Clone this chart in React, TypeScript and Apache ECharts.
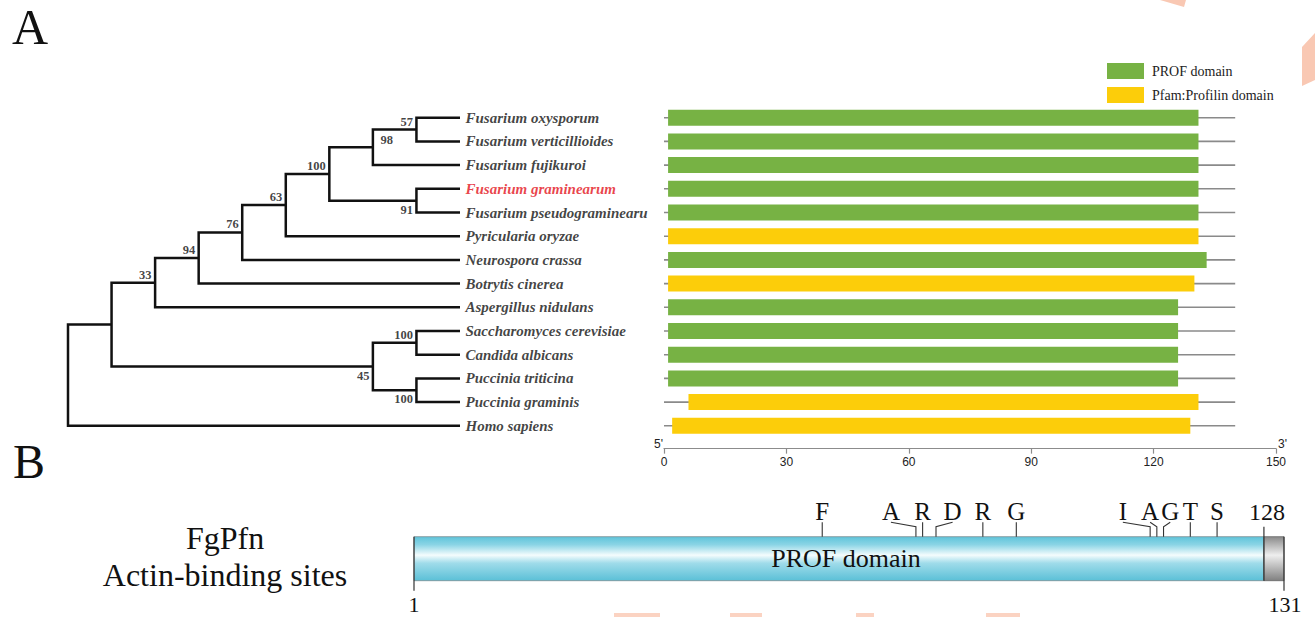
import React, { useEffect, useRef } from "react";
import * as echarts from "echarts";

// ---------------- DATA ----------------
const species = [
  "Fusarium oxysporum",
  "Fusarium verticillioides",
  "Fusarium fujikuroi",
  "Fusarium graminearum",
  "Fusarium pseudograminearum",
  "Pyricularia oryzae",
  "Neurospora crassa",
  "Botrytis cinerea",
  "Aspergillus nidulans",
  "Saccharomyces cerevisiae",
  "Candida albicans",
  "Puccinia triticina",
  "Puccinia graminis",
  "Homo sapiens",
];
const highlightedSpecies = "Fusarium graminearum";

// tree: internal nodes (children are leaf indices or node ids), level = depth in cladogram
const treeNodes = [
  { id: "n57", level: 8, children: [0, 1], support: 57, place: "a" },
  { id: "n98", level: 7, children: ["n57", 2], support: 98, place: "r" },
  { id: "n91", level: 8, children: [3, 4], support: 91, place: "b" },
  { id: "n100a", level: 6, children: ["n98", "n91"], support: 100, place: "a" },
  { id: "n63", level: 5, children: ["n100a", 5], support: 63, place: "a" },
  { id: "n76", level: 4, children: ["n63", 6], support: 76, place: "a" },
  { id: "n94", level: 3, children: ["n76", 7], support: 94, place: "a" },
  { id: "n33", level: 2, children: ["n94", 8], support: 33, place: "a" },
  { id: "n100b", level: 8, children: [9, 10], support: 100, place: "a" },
  { id: "n100c", level: 8, children: [11, 12], support: 100, place: "b" },
  { id: "n45", level: 7, children: ["n100b", "n100c"], support: 45, place: "b" },
  { id: "n1", level: 1, children: ["n33", "n45"], support: null, place: "a" },
  { id: "root", level: 0, children: ["n1", 13], support: null, place: "a" },
];
const leafLevel = 9;

const proteinLength = [140, 140, 140, 140, 140, 140, 140, 140, 140, 140, 140, 140, 140, 140];
const domainStart = [1, 1, 1, 1, 1, 1, 1, 1, 1, 1, 1, 1, 6, 2];
const domainEnd = [131, 131, 131, 131, 131, 131, 133, 130, 126, 126, 126, 126, 131, 129];
const domainType = ["PROF", "PROF", "PROF", "PROF", "PROF", "Pfam", "PROF", "Pfam", "PROF", "PROF", "PROF", "PROF", "Pfam", "Pfam"];
const domainLabels = { PROF: "PROF domain", Pfam: "Pfam:Profilin domain" };
const axisMax = 150;
const axisInterval = 30;

// panel B
const fgpfnLength = 131;
const profRegion = [1, 128];
const profLabel = "PROF domain";
const siteResidues = [62, 76, 77, 79, 86, 91, 111, 112, 113, 117, 121];
const siteLetters = ["F", "A", "R", "D", "R", "G", "I", "A", "G", "T", "S"];

// ---------------- LAYOUT / STYLE ----------------
const SERIF = "'Liberation Serif', 'Times New Roman', serif";
const SANS = "'Liberation Sans', Arial, sans-serif";
const GREEN = "#77b244";
const YELLOW = "#fccd0a";
const RED = "#e3121b";
const ROW_TOP = 105.85;
const ROW_STEP = 23.7;
const ROWS_H = ROW_STEP * species.length;
const TREE_LEFT = 68;
const TREE_W = 392;
const DOM_LEFT = 664;
const DOM_W = 612;
const AXIS_OFFSET = 11;
const B_LEFT = 414;
const B_W = 870;
const B_TOP = 536.7;
const B_H = 44;
const siteLabelShift = [0, -25, 0, 16.6, 0, 0, -27.3, -6.7, 6.7, 0, 0];

function computeTree() {
  const byId: Record<string, any> = {};
  treeNodes.forEach((n) => (byId[n.id] = n));
  const cache: Record<string, number> = {};
  const yOf = (c: any): number => {
    if (typeof c === "number") return c;
    if (cache[c] != null) return cache[c];
    const n = byId[c];
    const ys = n.children.map(yOf);
    const v = (Math.min(...ys) + Math.max(...ys)) / 2;
    cache[c] = v;
    return v;
  };
  const xOf = (c: any): number => (typeof c === "number" ? leafLevel : byId[c].level);
  const brackets = treeNodes.map((n) => {
    const [a, b] = n.children;
    return [n.level, yOf(a), xOf(a), yOf(b), xOf(b)];
  });
  const supports = treeNodes
    .filter((n) => n.support != null)
    .map((n) => ({ value: [n.level, yOf(n.id)], support: n.support, place: n.place }));
  return { brackets, supports };
}

export default function App() {
  const ref = useRef<HTMLDivElement>(null);
  useEffect(() => {
    document.body.style.margin = "0";
    const chart = echarts.init(ref.current!, null, { renderer: "svg" });
    const { brackets, supports } = computeTree();

    const supportData = supports.map((s) => {
      let label: any;
      if (s.place === "a") label = { position: [-3, -1], align: "right", verticalAlign: "bottom" };
      else if (s.place === "b") label = { position: [-3, 3], align: "right", verticalAlign: "top" };
      else label = { position: [8, -7], align: "left", verticalAlign: "middle" };
      return { value: s.value, support: s.support, label };
    });

    const leafData = species.map((name, i) => ({
      value: [leafLevel, i],
      name,
      label: { color: name === highlightedSpecies ? RED : "#111" },
    }));

    const domainRows = (type: string) =>
      species
        .map((_, i) => [i, domainStart[i], domainEnd[i], domainType[i]])
        .filter((r) => r[3] === type)
        .map((r) => [r[0], r[1], r[2]]);

    const domainSeries = (type: "PROF" | "Pfam", color: string) => ({
      type: "custom",
      name: domainLabels[type],
      xAxisIndex: 1,
      yAxisIndex: 1,
      itemStyle: { color },
      clip: false,
      z: 3,
      data: domainRows(type),
      renderItem: (params: any, api: any) => {
        const row = api.value(0);
        const p0 = api.coord([api.value(1), row]);
        const p1 = api.coord([api.value(2), row]);
        return {
          type: "rect",
          shape: { x: p0[0], y: p0[1] - 8, width: p1[0] - p0[0], height: 16 },
          style: { fill: color },
        };
      },
    });

    const cyan = new echarts.graphic.LinearGradient(0, 0, 0, 1, [
      { offset: 0, color: "#5fc4da" },
      { offset: 0.18, color: "#8ad4e5" },
      { offset: 0.42, color: "#f4fcfd" },
      { offset: 0.6, color: "#a0dcea" },
      { offset: 1, color: "#5bc0d7" },
    ]);
    const grey = new echarts.graphic.LinearGradient(0, 0, 0, 1, [
      { offset: 0, color: "#8a8a8a" },
      { offset: 0.42, color: "#eeeeee" },
      { offset: 1, color: "#808080" },
    ]);

    const option: any = {
      animation: false,
      backgroundColor: "#ffffff",
      grid: [
        { left: TREE_LEFT, top: ROW_TOP, width: TREE_W, height: ROWS_H },
        { left: DOM_LEFT, top: ROW_TOP, width: DOM_W, height: ROWS_H },
        { left: B_LEFT, top: B_TOP, width: B_W, height: B_H },
      ],
      xAxis: [
        { gridIndex: 0, type: "value", min: 0, max: leafLevel, show: false },
        {
          gridIndex: 1,
          type: "value",
          min: 0,
          max: axisMax,
          interval: axisInterval,
          position: "bottom",
          offset: AXIS_OFFSET,
          axisLine: { show: true, onZero: false, lineStyle: { color: "#8c8c8c", width: 1.2 } },
          axisTick: { show: true, length: 5, lineStyle: { color: "#8c8c8c", width: 1.2 } },
          axisLabel: { color: "#222", fontFamily: SANS, fontSize: 12, margin: 7 },
          splitLine: { show: false },
        },
        { gridIndex: 2, type: "value", min: 1, max: fgpfnLength, show: false },
      ],
      yAxis: [
        { gridIndex: 0, type: "value", min: -0.5, max: species.length - 0.5, inverse: true, show: false },
        { gridIndex: 1, type: "value", min: -0.5, max: species.length - 0.5, inverse: true, show: false },
        { gridIndex: 2, type: "value", min: 0, max: 1, show: false },
      ],
      legend: {
        data: [
          { name: domainLabels.PROF, icon: "rect" },
          { name: domainLabels.Pfam, icon: "rect" },
        ],
        orient: "vertical",
        left: 1107,
        top: 63,
        padding: 0,
        itemWidth: 37,
        itemHeight: 16,
        itemGap: 8,
        selectedMode: false,
        textStyle: { fontFamily: SERIF, fontSize: 14, color: "#222", padding: [0, 0, 0, 3] },
      },
      series: [
        {
          type: "custom",
          name: "tree",
          xAxisIndex: 0,
          yAxisIndex: 0,
          clip: false,
          data: brackets,
          renderItem: (params: any, api: any) => {
            const nx = api.value(0);
            const a = api.coord([api.value(2), api.value(1)]);
            const an = api.coord([nx, api.value(1)]);
            const bn = api.coord([nx, api.value(3)]);
            const b = api.coord([api.value(4), api.value(3)]);
            return {
              type: "polyline",
              shape: { points: [a, an, bn, b] },
              style: { stroke: "#111", lineWidth: 2.5, fill: "none", lineJoin: "miter" },
            };
          },
        },
        {
          type: "scatter",
          name: "species",
          xAxisIndex: 0,
          yAxisIndex: 0,
          symbolSize: 1,
          itemStyle: { color: "rgba(0,0,0,0)" },
          data: leafData,
          label: {
            show: true,
            position: "right",
            distance: 5,
            formatter: (p: any) => p.name,
            fontFamily: SERIF,
            fontStyle: "italic",
            fontWeight: "bold",
            fontSize: 15,
            width: 189,
            overflow: "truncate",
            ellipsis: "",
          },
        },
        {
          type: "scatter",
          name: "support",
          xAxisIndex: 0,
          yAxisIndex: 0,
          symbolSize: 1,
          itemStyle: { color: "rgba(0,0,0,0)" },
          data: supportData,
          label: {
            show: true,
            formatter: (p: any) => String(p.data.support),
            fontFamily: SERIF,
            fontWeight: "bold",
            fontSize: 12.5,
            color: "#111",
          },
        },
        {
          type: "custom",
          name: "backbone",
          xAxisIndex: 1,
          yAxisIndex: 1,
          clip: false,
          z: 2,
          data: proteinLength.map((len, i) => [i, len]),
          renderItem: (params: any, api: any) => {
            const row = api.value(0);
            const p0 = api.coord([0, row]);
            const p1 = api.coord([api.value(1), row]);
            return {
              type: "line",
              shape: { x1: p0[0], y1: p0[1], x2: p1[0], y2: p1[1] },
              style: { stroke: "#8a8a8a", lineWidth: 1.6 },
            };
          },
        },
        domainSeries("PROF", GREEN),
        domainSeries("Pfam", YELLOW),
        {
          type: "custom",
          name: "fgpfn",
          xAxisIndex: 2,
          yAxisIndex: 2,
          clip: false,
          data: [[profRegion[0], profRegion[1], fgpfnLength]],
          renderItem: (params: any, api: any) => {
            const s = api.coord([api.value(0), 1]);
            const m = api.coord([api.value(1), 0]);
            const e = api.coord([api.value(2), 0]);
            const top = s[1];
            const bot = m[1];
            const h = bot - top;
            return {
              type: "group",
              children: [
                { type: "rect", shape: { x: s[0], y: top, width: m[0] - s[0], height: h }, style: { fill: cyan, stroke: "#7a8c90", lineWidth: 0.8 } },
                { type: "rect", shape: { x: m[0], y: top, width: e[0] - m[0], height: h }, style: { fill: grey, stroke: "#666", lineWidth: 0.8 } },
                { type: "line", shape: { x1: s[0], y1: top, x2: s[0], y2: bot + 10 }, style: { stroke: "#333", lineWidth: 1.2 } },
                { type: "line", shape: { x1: e[0], y1: top, x2: e[0], y2: bot + 10 }, style: { stroke: "#333", lineWidth: 1.2 } },
                { type: "line", shape: { x1: m[0], y1: top - 10, x2: m[0], y2: bot }, style: { stroke: "#333", lineWidth: 1.2 } },
                {
                  type: "text",
                  x: (s[0] + m[0]) / 2 + 7,
                  y: (top + bot) / 2,
                  style: { text: profLabel, fontFamily: SERIF, fontSize: 26, fill: "#111", align: "center", verticalAlign: "middle" },
                },
                {
                  type: "text",
                  x: m[0] + 3,
                  y: top - 25,
                  style: { text: String(api.value(1)), fontFamily: SERIF, fontSize: 24, fill: "#111", align: "center", verticalAlign: "middle" },
                },
                {
                  type: "text",
                  x: s[0],
                  y: bot + 24,
                  style: { text: String(api.value(0)), fontFamily: SERIF, fontSize: 22, fill: "#111", align: "center", verticalAlign: "middle" },
                },
                {
                  type: "text",
                  x: e[0] + 1,
                  y: bot + 24,
                  style: { text: String(api.value(2)), fontFamily: SERIF, fontSize: 22, fill: "#111", align: "center", verticalAlign: "middle" },
                },
              ],
            };
          },
        },
        {
          type: "custom",
          name: "sites",
          xAxisIndex: 2,
          yAxisIndex: 2,
          clip: false,
          z: 4,
          data: siteResidues.map((r, i) => [r, i]),
          renderItem: (params: any, api: any) => {
            const idx = api.value(1);
            const p = api.coord([api.value(0), 1]);
            const lx = p[0] + siteLabelShift[idx];
            return {
              type: "group",
              children: [
                {
                  type: "polyline",
                  shape: { points: [[lx, p[1] - 14.5], [p[0], p[1] - 10], [p[0], p[1]]] },
                  style: { stroke: "#333", lineWidth: 1.1, fill: "none" },
                },
                {
                  type: "text",
                  x: lx,
                  y: p[1] - 25,
                  style: { text: siteLetters[idx], fontFamily: SERIF, fontSize: 25, fill: "#111", align: "center", verticalAlign: "middle" },
                },
              ],
            };
          },
        },
      ],
      graphic: [
        { type: "text", left: 12, top: 2, style: { text: "A", fontFamily: SERIF, fontSize: 50, fill: "#111" } },
        { type: "text", left: 13, top: 437, style: { text: "B", fontFamily: SERIF, fontSize: 48, fill: "#111" } },
        { type: "text", x: DOM_LEFT - 1, y: ROW_TOP + ROWS_H + AXIS_OFFSET + 1, style: { text: "5'", fontFamily: SANS, fontSize: 12, fill: "#222", align: "right", verticalAlign: "bottom" } },
        { type: "text", x: DOM_LEFT + DOM_W + 2, y: ROW_TOP + ROWS_H + AXIS_OFFSET + 1, style: { text: "3'", fontFamily: SANS, fontSize: 12, fill: "#222", align: "left", verticalAlign: "bottom" } },
        { type: "text", x: 225, y: 538, style: { text: "FgPfn", fontFamily: SERIF, fontSize: 32, fill: "#111", align: "center", verticalAlign: "middle" } },
        { type: "text", x: 225, y: 575, style: { text: "Actin-binding sites", fontFamily: SERIF, fontSize: 32, fill: "#111", align: "center", verticalAlign: "middle" } },
        { type: "polygon", shape: { points: [[1160, 0], [1186, 0], [1184, 7]] }, style: { fill: "#f9c8b3" } },
        { type: "polygon", shape: { points: [[1315, 33], [1315, 80], [1302, 86], [1302, 47]] }, style: { fill: "#f9c8b3" } },
        { type: "rect", shape: { x: 614, y: 613, width: 46, height: 4 }, style: { fill: "#fbd3c2" } },
        { type: "rect", shape: { x: 730, y: 613, width: 32, height: 4 }, style: { fill: "#fbd3c2" } },
        { type: "rect", shape: { x: 856, y: 613, width: 18, height: 4 }, style: { fill: "#fbd3c2" } },
        { type: "rect", shape: { x: 986, y: 613, width: 34, height: 4 }, style: { fill: "#fbd3c2" } },
      ],
    };
    chart.setOption(option);
    return () => chart.dispose();
  }, []);
  return (
    <div
      ref={ref}
      style={{ position: "fixed", left: 0, top: 0, width: 1315, height: 617, background: "#fff" }}
    />
  );
}
